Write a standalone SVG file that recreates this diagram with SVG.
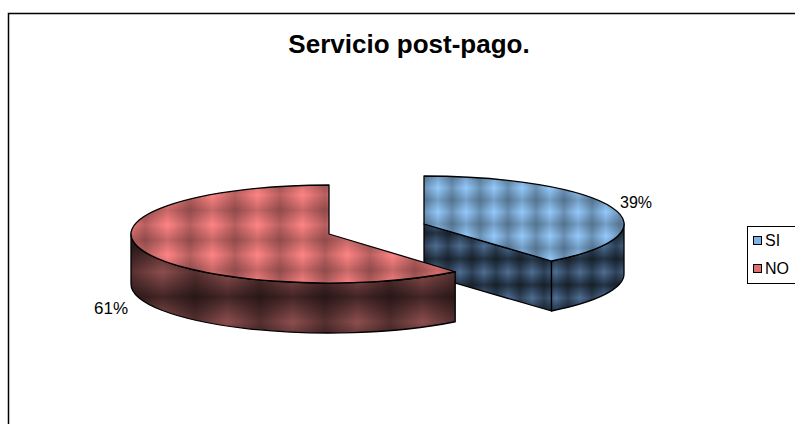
<svg xmlns="http://www.w3.org/2000/svg" width="795" height="424" viewBox="0 0 795 424">
<style>
.t{font-family:"Liberation Sans",Arial,sans-serif;fill:#000}
.edge{stroke:#000;stroke-width:1.3;stroke-linejoin:round}
</style>
<defs>
<linearGradient id="gh" x1="0" y1="0" x2="1" y2="0">
<stop offset="0" stop-color="#000" stop-opacity="0.28"/>
<stop offset="0.5" stop-color="#000" stop-opacity="0"/>
<stop offset="1" stop-color="#000" stop-opacity="0.28"/>
</linearGradient>
<linearGradient id="gv" x1="0" y1="0" x2="0" y2="1">
<stop offset="0" stop-color="#000" stop-opacity="0.22"/>
<stop offset="0.5" stop-color="#000" stop-opacity="0"/>
<stop offset="1" stop-color="#000" stop-opacity="0.22"/>
</linearGradient>
<linearGradient id="ghs" x1="0" y1="0" x2="1" y2="0">
<stop offset="0" stop-color="#000" stop-opacity="0.4"/>
<stop offset="0.5" stop-color="#000" stop-opacity="0"/>
<stop offset="1" stop-color="#000" stop-opacity="0.4"/>
</linearGradient>
<linearGradient id="gvs" x1="0" y1="0" x2="0" y2="1">
<stop offset="0" stop-color="#000" stop-opacity="0.05"/>
<stop offset="0.5" stop-color="#000" stop-opacity="0.55"/>
<stop offset="1" stop-color="#000" stop-opacity="0.05"/>
</linearGradient>
<pattern id="pRedTop" patternUnits="userSpaceOnUse" width="45" height="30" x="10" y="0">
<rect width="45" height="30" fill="#FF8484"/>
<rect width="45" height="30" fill="url(#gh)"/>
<rect width="45" height="30" fill="url(#gv)"/>
</pattern>
<pattern id="pRedSide" patternUnits="userSpaceOnUse" width="65" height="50" x="0" y="272">
<rect width="65" height="50" fill="#945252"/>
<rect width="65" height="50" fill="url(#ghs)"/>
<rect width="65" height="50" fill="url(#gvs)"/>
</pattern>
<pattern id="pBlueTop" patternUnits="userSpaceOnUse" width="28" height="24" x="424" y="176">
<rect width="28" height="24" fill="#94CAFC"/>
<rect width="28" height="24" fill="url(#gh)"/>
<rect width="28" height="24" fill="url(#gv)"/>
</pattern>
<pattern id="pBlueSide" patternUnits="userSpaceOnUse" width="24" height="26" x="424" y="220">
<rect width="24" height="26" fill="#52749C"/>
<rect width="24" height="26" fill="url(#ghs)"/>
<rect width="24" height="26" fill="url(#gvs)"/>
</pattern>
</defs>

<rect id="chart-area" x="8.5" y="13.5" width="800" height="420" fill="#fff" stroke="#000" stroke-width="1.5"/>

<text class="t" x="409" y="53" font-size="26" font-weight="bold" text-anchor="middle">Servicio post-pago.</text>

<g id="slice-si">
<path class="edge" d="M424,224 L551.5,261 L551.5,311 L424,274 Z" fill="url(#pBlueSide)"/>
<path class="edge" d="M624,224 A200 48 0 0 1 551.5,261 L551.5,311 A200 48 0 0 0 624,274 Z" fill="url(#pBlueSide)"/>
<path class="edge" d="M424,224 L424,176 A200 48 0 0 1 551.5,261 Z" fill="url(#pBlueTop)"/>
</g>

<g id="slice-no">
<path class="edge" d="M131,234 A198 49 0 0 0 455.2,271.75 L455.2,321.75 A198 49 0 0 1 131,284 Z" fill="url(#pRedSide)"/>
<path class="edge" d="M329,234 L329,185 A198 49 0 1 0 455.2,271.75 Z" fill="url(#pRedTop)"/>
</g>

<g id="labels">
<text class="t" x="620" y="208" font-size="16">39%</text>
<text class="t" x="94" y="314" font-size="17">61%</text>
</g>

<g id="legend">
<rect x="747.5" y="226.5" width="60" height="57" fill="#fff" stroke="#000" stroke-width="1"/>
<rect x="753.5" y="236.5" width="8" height="8" fill="#7FB2E5" stroke="#000" stroke-width="1"/>
<text class="t" x="765" y="246" font-size="16">SI</text>
<rect x="753.5" y="264.5" width="8" height="8" fill="#E07070" stroke="#000" stroke-width="1"/>
<text class="t" x="765" y="274" font-size="16">NO</text>
</g>
</svg>
